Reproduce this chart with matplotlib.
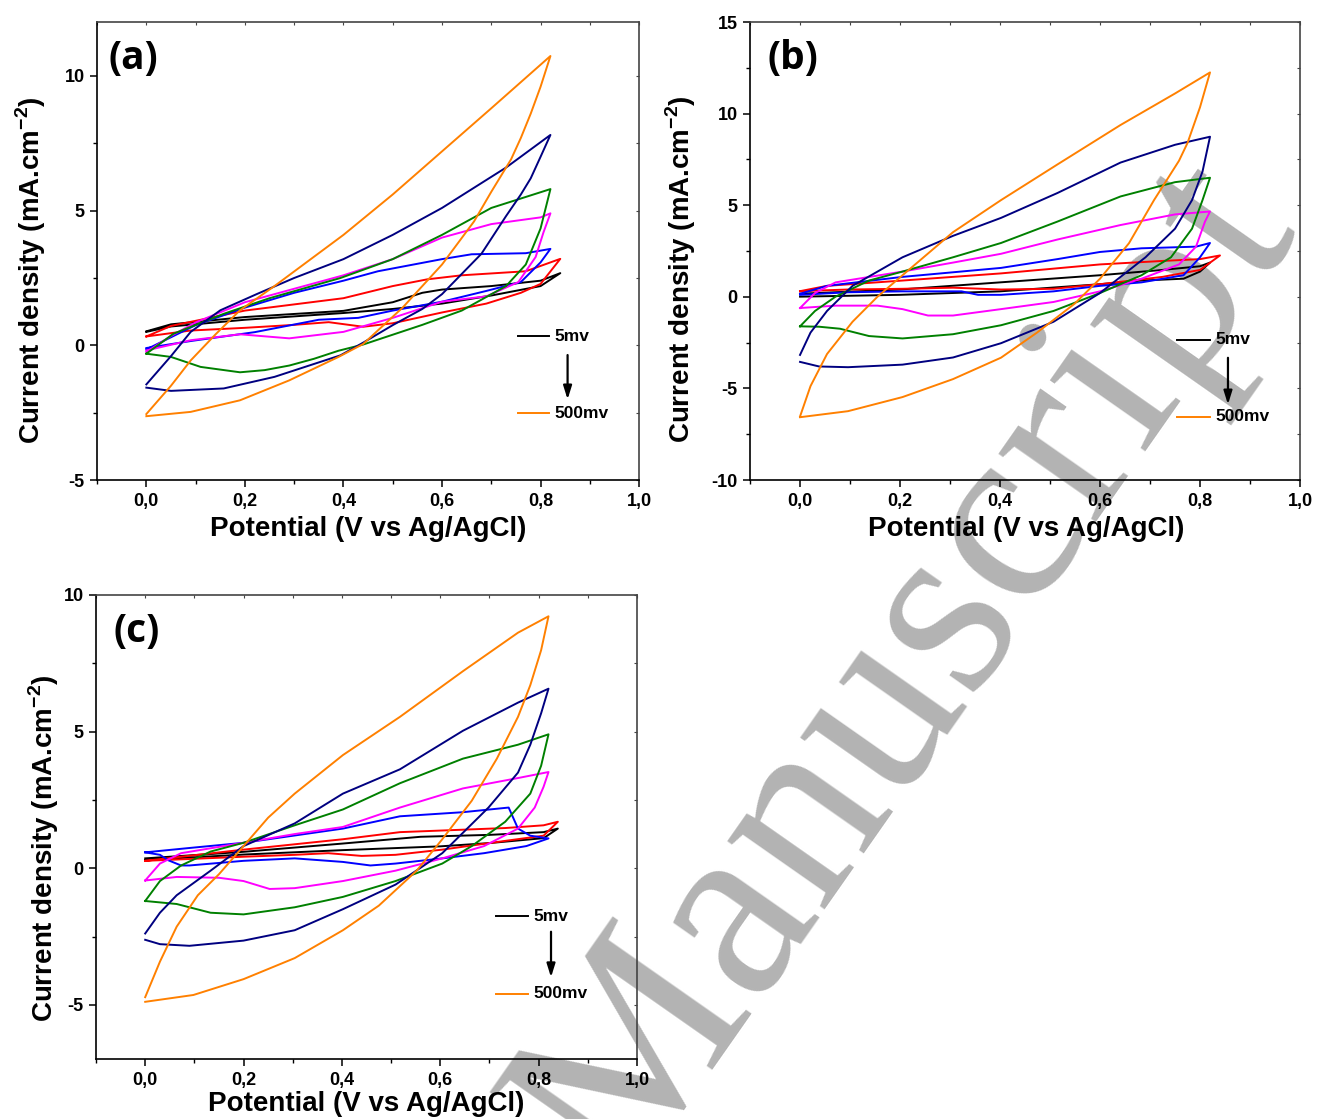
import matplotlib
matplotlib.use("Agg")
import matplotlib.pyplot as plt
from matplotlib.ticker import MultipleLocator, FuncFormatter, NullFormatter

# ---- panel (a): CV loops, potential (V) / current density (mA/cm2) ----
A_BLACK_V = [0, 0.05, 0.2, 0.4, 0.5, 0.56, 0.6, 0.7, 0.8, 0.84, 0.8, 0.7, 0.6, 0.5, 0.4, 0.2, 0.05, 0]
A_BLACK_J = [0.52, 0.78, 1.05, 1.28, 1.6, 1.95, 2.07, 2.2, 2.4, 2.68, 2.2, 1.85, 1.55, 1.35, 1.2, 0.95, 0.7, 0.5]
A_RED_V = [0, 0.05, 0.2, 0.4, 0.5, 0.57, 0.64, 0.77, 0.84, 0.8, 0.76, 0.69, 0.6, 0.5, 0.44, 0.37, 0.3, 0.2, 0.09, 0]
A_RED_J = [0.33, 0.72, 1.29, 1.75, 2.2, 2.45, 2.6, 2.75, 3.21, 2.28, 1.95, 1.55, 1.22, 0.82, 0.69, 0.86, 0.76, 0.65, 0.55, 0.33]
A_BLUE_V = [0, 0.05, 0.1, 0.2, 0.3, 0.4, 0.47, 0.6, 0.66, 0.77, 0.82, 0.8, 0.76, 0.69, 0.6, 0.5, 0.43, 0.35, 0.22, 0.09, 0]
A_BLUE_J = [-0.15, 0.3, 0.75, 1.4, 1.95, 2.4, 2.75, 3.2, 3.38, 3.42, 3.58, 3.08, 2.35, 2.02, 1.62, 1.29, 1.02, 0.95, 0.49, 0.16, -0.1]
A_MAGENTA_V = [0, 0.05, 0.1, 0.2, 0.3, 0.4, 0.5, 0.6, 0.7, 0.8, 0.82, 0.806, 0.79, 0.755, 0.69, 0.6, 0.5, 0.4, 0.29, 0.19, 0.09, 0]
A_MAGENTA_J = [-0.25, 0.35, 0.85, 1.6, 2.1, 2.6, 3.2, 4.0, 4.5, 4.75, 4.9, 4.2, 3.28, 2.35, 1.82, 1.62, 1.02, 0.5, 0.26, 0.41, 0.19, -0.19]
A_GREEN_V = [0, 0.055, 0.157, 0.25, 0.394, 0.5, 0.6, 0.7, 0.82, 0.8, 0.77, 0.73, 0.64, 0.56, 0.44, 0.39, 0.34, 0.29, 0.24, 0.19, 0.11, 0.05, 0]
A_GREEN_J = [-0.31, 0.43, 1.17, 1.75, 2.5, 3.2, 4.1, 5.1, 5.8, 4.34, 3.0, 2.2, 1.29, 0.76, 0.03, -0.2, -0.5, -0.75, -0.92, -1.0, -0.8, -0.43, -0.31]
A_NAVY_V = [0, 0.05, 0.09, 0.15, 0.225, 0.3, 0.4, 0.5, 0.6, 0.73, 0.82, 0.8, 0.78, 0.76, 0.73, 0.68, 0.6, 0.56, 0.5, 0.44, 0.394, 0.26, 0.157, 0.05, 0]
A_NAVY_J = [-1.45, -0.4, 0.5, 1.3, 1.91, 2.5, 3.2, 4.1, 5.1, 6.6, 7.81, 7.0, 6.2, 5.6, 4.8, 3.4, 1.9, 1.35, 0.75, 0.1, -0.37, -1.17, -1.6, -1.69, -1.57]
A_ORANGE_V = [0, 0.05, 0.09, 0.14, 0.19, 0.26, 0.33, 0.4, 0.5, 0.6, 0.7, 0.82, 0.8, 0.78, 0.76, 0.74, 0.7, 0.665, 0.6, 0.52, 0.44, 0.39, 0.29, 0.19, 0.09, 0]
A_ORANGE_J = [-2.55, -1.5, -0.56, 0.4, 1.3, 2.2, 3.15, 4.1, 5.6, 7.2, 8.8, 10.74, 9.6, 8.6, 7.7, 6.9, 5.7, 4.6, 3.0, 1.4, 0.05, -0.43, -1.3, -2.04, -2.47, -2.63]

# ---- panel (b) ----
B_BLACK_V = [0, 0.2, 0.4, 0.6, 0.725, 0.8, 0.82, 0.8, 0.767, 0.683, 0.6, 0.4, 0.2, 0]
B_BLACK_J = [0.17, 0.4, 0.79, 1.18, 1.47, 1.67, 1.87, 1.38, 0.99, 0.89, 0.69, 0.3, 0.11, 0.01]
B_RED_V = [0, 0.054, 0.205, 0.402, 0.6, 0.725, 0.8, 0.84, 0.8, 0.725, 0.6, 0.507, 0.402, 0.306, 0.205, 0.096, 0]
B_RED_J = [0.31, 0.6, 0.89, 1.28, 1.77, 1.96, 2.06, 2.26, 1.47, 1.09, 0.69, 0.44, 0.4, 0.5, 0.44, 0.4, 0.31]
B_BLUE_V = [0, 0.054, 0.205, 0.402, 0.515, 0.6, 0.683, 0.792, 0.82, 0.8, 0.767, 0.683, 0.6, 0.507, 0.402, 0.356, 0.323, 0.205, 0.096, 0]
B_BLUE_J = [0.17, 0.6, 1.09, 1.58, 2.06, 2.45, 2.65, 2.74, 2.94, 2.16, 1.18, 0.79, 0.6, 0.3, 0.11, 0.11, 0.3, 0.3, 0.25, 0.11]
B_MAGENTA_V = [0, 0.03, 0.071, 0.205, 0.306, 0.402, 0.515, 0.641, 0.75, 0.82, 0.81, 0.792, 0.758, 0.683, 0.6, 0.507, 0.402, 0.306, 0.256, 0.205, 0.155, 0.071, 0]
B_MAGENTA_J = [-0.61, 0.21, 0.79, 1.38, 1.87, 2.35, 3.13, 3.92, 4.5, 4.66, 4.11, 2.74, 1.77, 0.99, 0.3, -0.28, -0.67, -1.02, -1.02, -0.67, -0.48, -0.48, -0.61]
B_GREEN_V = [0, 0.03, 0.071, 0.138, 0.205, 0.306, 0.402, 0.515, 0.641, 0.75, 0.82, 0.805, 0.784, 0.742, 0.683, 0.6, 0.507, 0.402, 0.306, 0.205, 0.138, 0.08, 0.038, 0]
B_GREEN_J = [-1.61, -0.77, 0.01, 0.89, 1.38, 2.16, 2.94, 4.11, 5.48, 6.26, 6.5, 5.28, 3.72, 2.16, 1.18, 0.21, -0.77, -1.55, -2.04, -2.27, -2.14, -1.74, -1.63, -1.61]
B_NAVY_V = [0, 0.021, 0.054, 0.105, 0.205, 0.306, 0.402, 0.515, 0.641, 0.75, 0.82, 0.805, 0.784, 0.75, 0.691, 0.6, 0.507, 0.402, 0.306, 0.205, 0.096, 0.038, 0]
B_NAVY_J = [-3.17, -1.95, -0.77, 0.6, 2.16, 3.33, 4.31, 5.67, 7.33, 8.3, 8.74, 6.84, 5.28, 3.72, 2.16, 0.21, -1.36, -2.53, -3.31, -3.7, -3.84, -3.8, -3.55]
B_ORANGE_V = [0, 0.021, 0.054, 0.105, 0.155, 0.205, 0.306, 0.402, 0.515, 0.641, 0.75, 0.82, 0.8, 0.775, 0.758, 0.708, 0.658, 0.6, 0.549, 0.474, 0.402, 0.306, 0.205, 0.096, 0]
B_ORANGE_J = [-6.53, -4.87, -3.12, -1.36, 0.01, 1.18, 3.53, 5.28, 7.23, 9.38, 11.1, 12.25, 10.35, 8.4, 7.43, 5.28, 2.93, 0.99, -0.38, -1.95, -3.32, -4.49, -5.47, -6.24, -6.57]

# ---- panel (c) ----
C_BLACK_V = [0, 0.2, 0.4, 0.56, 0.7, 0.81, 0.839, 0.81, 0.7, 0.6, 0.4, 0.2, 0]
C_BLACK_J = [0.36, 0.6, 0.9, 1.15, 1.22, 1.32, 1.45, 1.1, 0.92, 0.8, 0.66, 0.5, 0.3]
C_RED_V = [0, 0.2, 0.402, 0.518, 0.604, 0.732, 0.81, 0.839, 0.81, 0.732, 0.604, 0.509, 0.44, 0.372, 0.304, 0.2, 0]
C_RED_J = [0.27, 0.68, 1.06, 1.32, 1.38, 1.47, 1.57, 1.7, 1.19, 1.0, 0.68, 0.49, 0.45, 0.55, 0.49, 0.42, 0.27]
C_BLUE_V = [0, 0.09, 0.2, 0.402, 0.518, 0.646, 0.739, 0.758, 0.783, 0.82, 0.775, 0.689, 0.604, 0.509, 0.458, 0.402, 0.304, 0.2, 0.09, 0.073, 0.047, 0.03, 0]
C_BLUE_J = [0.58, 0.74, 0.93, 1.45, 1.9, 2.05, 2.22, 1.45, 1.19, 1.09, 0.81, 0.55, 0.36, 0.17, 0.1, 0.23, 0.36, 0.27, 0.1, 0.1, 0.29, 0.49, 0.58]
C_MAGENTA_V = [0, 0.03, 0.073, 0.2, 0.304, 0.402, 0.518, 0.646, 0.758, 0.82, 0.81, 0.792, 0.758, 0.689, 0.604, 0.509, 0.402, 0.304, 0.253, 0.2, 0.15, 0.064, 0]
C_MAGENTA_J = [-0.45, 0.17, 0.55, 0.93, 1.25, 1.51, 2.22, 2.92, 3.3, 3.52, 2.98, 2.22, 1.45, 0.81, 0.36, -0.09, -0.47, -0.73, -0.76, -0.47, -0.35, -0.32, -0.45]
C_GREEN_V = [0, 0.03, 0.073, 0.133, 0.2, 0.304, 0.402, 0.518, 0.646, 0.758, 0.82, 0.805, 0.783, 0.732, 0.664, 0.604, 0.509, 0.402, 0.304, 0.2, 0.133, 0.064, 0]
C_GREEN_J = [-1.2, -0.47, 0.1, 0.61, 0.93, 1.57, 2.15, 3.11, 4.01, 4.52, 4.9, 3.75, 2.73, 1.7, 0.81, 0.17, -0.47, -1.05, -1.43, -1.69, -1.63, -1.31, -1.2]
C_NAVY_V = [0, 0.03, 0.064, 0.133, 0.2, 0.304, 0.402, 0.518, 0.646, 0.758, 0.82, 0.805, 0.783, 0.758, 0.698, 0.604, 0.509, 0.402, 0.304, 0.2, 0.09, 0.03, 0]
C_NAVY_J = [-2.39, -1.63, -0.99, -0.09, 0.81, 1.64, 2.73, 3.62, 5.03, 6.06, 6.57, 5.67, 4.52, 3.5, 2.22, 0.55, -0.6, -1.5, -2.27, -2.65, -2.84, -2.78, -2.62]
C_ORANGE_V = [0, 0.03, 0.064, 0.107, 0.15, 0.2, 0.25, 0.304, 0.402, 0.518, 0.646, 0.758, 0.82, 0.805, 0.783, 0.758, 0.715, 0.664, 0.604, 0.552, 0.475, 0.402, 0.304, 0.2, 0.098, 0]
C_ORANGE_J = [-4.72, -3.42, -2.14, -0.99, -0.22, 0.81, 1.85, 2.73, 4.14, 5.54, 7.21, 8.62, 9.22, 7.98, 6.7, 5.54, 4.01, 2.47, 1.06, -0.09, -1.37, -2.27, -3.29, -4.06, -4.64, -4.89]

COLORS = ["#000000", "#ff0000", "#0000ff", "#ff00ff", "#008000", "#000080", "#ff8000"]
LEGEND_LABELS = ["5mv", "500mv"]

PANELS = [
    ("(a)", [(A_BLACK_V, A_BLACK_J), (A_RED_V, A_RED_J), (A_BLUE_V, A_BLUE_J), (A_MAGENTA_V, A_MAGENTA_J),
             (A_GREEN_V, A_GREEN_J), (A_NAVY_V, A_NAVY_J), (A_ORANGE_V, A_ORANGE_J)]),
    ("(b)", [(B_BLACK_V, B_BLACK_J), (B_RED_V, B_RED_J), (B_BLUE_V, B_BLUE_J), (B_MAGENTA_V, B_MAGENTA_J),
             (B_GREEN_V, B_GREEN_J), (B_NAVY_V, B_NAVY_J), (B_ORANGE_V, B_ORANGE_J)]),
    ("(c)", [(C_BLACK_V, C_BLACK_J), (C_RED_V, C_RED_J), (C_BLUE_V, C_BLUE_J), (C_MAGENTA_V, C_MAGENTA_J),
             (C_GREEN_V, C_GREEN_J), (C_NAVY_V, C_NAVY_J), (C_ORANGE_V, C_ORANGE_J)]),
]

# layout: axes rect, y limits, label positions, legend positions (axes fraction)
LAYOUT = {
    "(a)": dict(rect=[0.0737, 0.5710, 0.4116, 0.4093], ylim=(-5, 12), tag=(0.021, 0.92),
                ylab=(-0.090, 0.4585), xlab=(0.50, -0.078), leg=(0.776, 0.833, 0.314, 0.146, 0.868, 0.279, 0.17)),
    "(b)": dict(rect=[0.5695, 0.5710, 0.4176, 0.4093], ylim=(-10, 15), tag=(0.031, 0.92),
                ylab=(-0.0945, 0.4607), xlab=(0.502, -0.078), leg=(0.776, 0.836, 0.306, 0.138, 0.869, 0.273, 0.159)),
    "(c)": dict(rect=[0.0729, 0.0532, 0.4108, 0.4151], ylim=(-7, 10), tag=(0.033, 0.922),
                ylab=(-0.0647, 0.455), xlab=(0.50, -0.0684), leg=(0.739, 0.799, 0.308, 0.142, 0.841, 0.281, 0.171)),
}

plt.rcParams["font.family"] = ["Liberation Sans", "DejaVu Sans"]
plt.rcParams["font.weight"] = "bold"
plt.rcParams["mathtext.fontset"] = "custom"
plt.rcParams["mathtext.rm"] = "Liberation Sans:bold"
plt.rcParams["mathtext.bf"] = "Liberation Sans:bold"


def comma_fmt(v, pos):
    return f"{v:.1f}".replace(".", ",")


def int_fmt(v, pos):
    return f"{v:g}"


fig = plt.figure(figsize=(13.17, 11.19), dpi=100)
fig.patch.set_facecolor("white")

for tag, curves in PANELS:
    lay = LAYOUT[tag]
    ax = fig.add_axes(lay["rect"])
    ax.set_facecolor("none")

    for (v, j), c in zip(curves, COLORS):
        ax.plot(v, j, color=c, lw=1.4, solid_joinstyle="round")

    ax.set_xlim(-0.1, 1.0)
    ax.set_ylim(*lay["ylim"])
    ax.xaxis.set_major_locator(MultipleLocator(0.2))
    ax.xaxis.set_minor_locator(MultipleLocator(0.1))
    ax.yaxis.set_major_locator(MultipleLocator(5))
    ax.yaxis.set_minor_locator(MultipleLocator(2.5))
    ax.xaxis.set_major_formatter(FuncFormatter(comma_fmt))
    ax.yaxis.set_major_formatter(FuncFormatter(int_fmt))
    ax.tick_params(which="major", direction="out", length=5, width=1.1, labelsize=13, pad=4)
    ax.tick_params(which="minor", direction="out", length=3, width=1.0)
    for lab in ax.get_xticklabels() + ax.get_yticklabels():
        lab.set_fontweight("bold")

    for side in ["left", "bottom"]:
        ax.spines[side].set_linewidth(1.2)
    for side in ["top", "right"]:
        ax.spines[side].set_linewidth(1.2)
        ax.spines[side].set_color("#444444")

    # small inward ticks on top and right
    top = ax.secondary_xaxis("top")
    top.xaxis.set_major_locator(MultipleLocator(0.2))
    top.xaxis.set_minor_locator(MultipleLocator(0.1))
    top.xaxis.set_major_formatter(NullFormatter())
    top.tick_params(which="both", direction="in", length=2, width=0.8, colors="#444444")
    top.spines["top"].set_visible(False)
    right = ax.secondary_yaxis("right")
    right.yaxis.set_major_locator(MultipleLocator(5))
    right.yaxis.set_minor_locator(MultipleLocator(2.5))
    right.yaxis.set_major_formatter(NullFormatter())
    right.tick_params(which="both", direction="in", length=2, width=0.8, colors="#444444")
    right.spines["right"].set_visible(False)

    ax.set_xlabel("Potential (V vs Ag/AgCl)", fontsize=20, fontweight="bold")
    ax.set_ylabel(r"Current density (mA.cm$^{\mathbf{-2}}$)", fontsize=20, fontweight="bold")
    ax.xaxis.set_label_coords(*lay["xlab"])
    ax.yaxis.set_label_coords(*lay["ylab"])

    ax.text(lay["tag"][0], lay["tag"][1], tag, transform=ax.transAxes, fontsize=28,
            fontweight="bold", family="Open Sans", ha="left", va="center")

    # scan-rate legend
    x0, x1, y5, y500, xa, ya0, ya1 = lay["leg"]
    ax.plot([x0, x1], [y5, y5], color=COLORS[0], lw=1.4, transform=ax.transAxes)
    ax.plot([x0, x1], [y500, y500], color=COLORS[-1], lw=1.4, transform=ax.transAxes)
    ax.text(x1 + 0.01, y5, LEGEND_LABELS[0], transform=ax.transAxes, fontsize=12.5,
            fontweight="bold", ha="left", va="center")
    ax.text(x1 + 0.01, y500, LEGEND_LABELS[1], transform=ax.transAxes, fontsize=12.5,
            fontweight="bold", ha="left", va="center")
    ax.annotate("", xy=(xa, ya1), xytext=(xa, ya0), xycoords="axes fraction",
                arrowprops=dict(arrowstyle="-|>,head_length=0.8,head_width=0.25", color="black", lw=1.6))

# accepted-manuscript watermark, behind the plots
fig.text(0.728, 0.368, "Manuscript", rotation=55, rotation_mode="anchor", fontsize=186,
         family="Liberation Serif", fontweight="normal", color="#b3b3b3",
         ha="center", va="baseline", zorder=-1)

fig.savefig("out.png", dpi=100)
